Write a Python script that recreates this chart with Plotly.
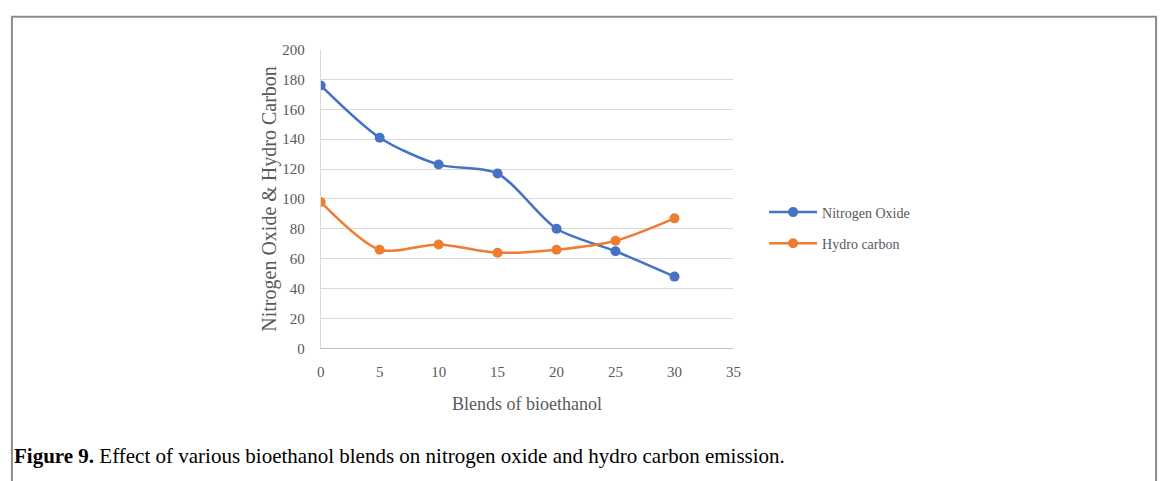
import plotly.graph_objects as go

W, H = 1170, 481

blends = [0, 5, 10, 15, 20, 25, 30]
nitrogen_oxide = [176, 141, 123, 117, 80, 65, 48]
hydro_carbon = [98, 66, 69.5, 64, 66, 72, 87]

x_ticks = [0, 5, 10, 15, 20, 25, 30, 35]
y_ticks = [0, 20, 40, 60, 80, 100, 120, 140, 160, 180, 200]

FONT = "Liberation Serif"
GREY = "#595959"

def px(x):
    return x / W

def py(y):
    return 1 - y / H

fig = go.Figure()
fig.add_trace(go.Scatter(
    x=blends, y=nitrogen_oxide, name="Nitrogen Oxide", mode="lines+markers",
    line=dict(color="#4472C4", width=2.5, shape="spline", smoothing=0.8),
    marker=dict(color="#4472C4", size=10), legendgroup="a"))
fig.add_trace(go.Scatter(
    x=blends, y=hydro_carbon, name="Hydro carbon", mode="lines+markers",
    line=dict(color="#ED7D31", width=2.5, shape="spline", smoothing=0.8),
    marker=dict(color="#ED7D31", size=10), legendgroup="b"))

fig.update_layout(
    width=W, height=H,
    margin=dict(l=0, r=0, t=0, b=0),
    paper_bgcolor="white", plot_bgcolor="white",
    font=dict(family=FONT, size=15, color=GREY),
    xaxis=dict(domain=[px(320), px(737)], range=[0, 35], tickvals=x_ticks,
               showgrid=False, showline=True, linecolor="#BFBFBF", linewidth=1,
               zeroline=False, ticks="", ticklabelstandoff=10,
               tickfont=dict(size=15, color=GREY)),
    yaxis=dict(domain=[py(352), py(43)], range=[0, 200], tickvals=y_ticks,
               showgrid=True, gridcolor="#D9D9D9", gridwidth=1,
               showline=True, linecolor="#D9D9D9", linewidth=1,
               zeroline=False, ticks="", ticklabelstandoff=12,
               tickfont=dict(size=15, color=GREY)),
    legend=dict(x=px(768), y=py(195), xanchor="left", yanchor="top",
                bgcolor="rgba(0,0,0,0)", font=dict(size=14, color=GREY),
                tracegroupgap=10, itemwidth=48),
    showlegend=True,
)

fig.add_annotation(text="Nitrogen Oxide & Hydro Carbon", textangle=-90,
                   x=px(268), y=py(197), xref="paper", yref="paper",
                   xanchor="center", yanchor="middle",
                   showarrow=False, font=dict(family=FONT, size=20, color=GREY))
fig.add_annotation(text="Blends of bioethanol",
                   x=px(528), y=py(410), xref="paper", yref="paper",
                   xanchor="center", yanchor="middle",
                   showarrow=False, font=dict(family=FONT, size=18, color=GREY))
fig.add_annotation(text="<b>Figure 9.</b> Effect of various bioethanol blends on nitrogen oxide and hydro carbon emission.",
                   x=px(8), y=py(463), xref="paper", yref="paper",
                   xanchor="left", yanchor="middle",
                   showarrow=False, font=dict(family=FONT, size=21, color="black"))

fig.add_shape(type="rect", xref="paper", yref="paper",
              x0=px(8), x1=px(1164), y0=-0.2, y1=py(9),
              line=dict(color="#8C8C8C", width=2), fillcolor="rgba(0,0,0,0)", layer="below")

fig.write_html("out.html")
